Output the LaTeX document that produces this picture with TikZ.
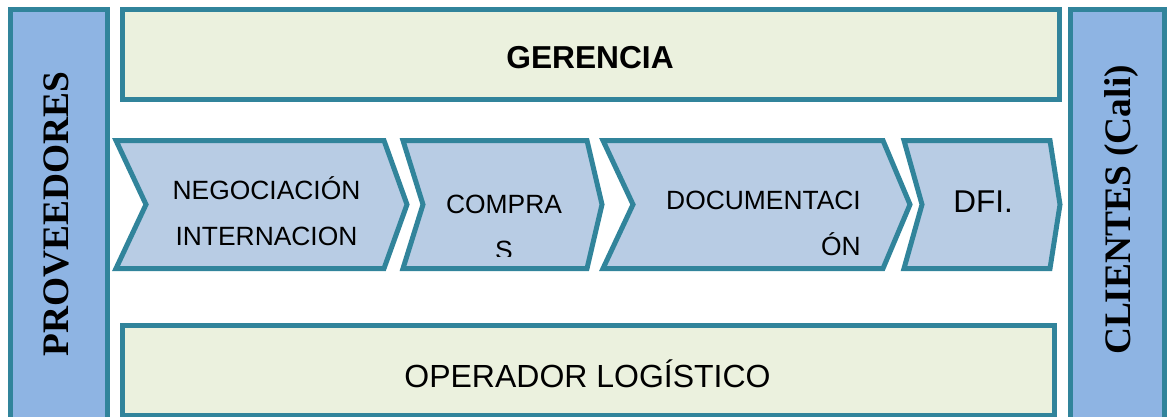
\documentclass[tikz,border=0pt]{standalone}
\usepackage{fontspec}
\setmainfont{Liberation Sans}
\newfontfamily\timesfont{Liberation Serif}
\usepackage{tikz}
\usetikzlibrary{positioning}
\definecolor{borde}{RGB}{49,132,155}
\definecolor{lateral}{RGB}{142,180,227}
\definecolor{proceso}{RGB}{184,204,228}
\definecolor{franja}{RGB}{235,241,222}
\tikzset{side/.style={draw=borde,fill=lateral,line width=5pt}}
\tikzset{band/.style={draw=borde,fill=franja,line width=5pt}}
\tikzset{paso/.style={draw=borde,fill=proceso,line width=5pt,line join=miter}}
\tikzset{rotulo/.style={inner sep=0pt,anchor=base}}
\tikzset{vertical/.style={rotulo,rotate=90,font=\timesfont\bfseries\fontsize{37.4}{40}\selectfont}}

\begin{document}
\begin{tikzpicture}[x=1pt,y=-1pt]
  \useasboundingbox (0,0) rectangle (1167,416);
  \clip (0,0) rectangle (1167,416);
  % columnas laterales
  \draw[side] (10.5,9.5) rectangle (107.5,420);
  \draw[side] (1070.5,9.5) rectangle (1164.5,420);
  % franjas
  \draw[band] (122.5,9.5) rectangle (1059.5,99.5);
  \draw[band] (122.5,325.5) rectangle (1054.5,415.5);
  % pasos del proceso
  \foreach \a/\b/\c/\d in {116/146/384/407, 403/423/587/602, 603/633/883/910, 904/922/1050/1060}
    \draw[paso] (\a,140.5) -- (\c,140.5) -- (\d,204.5) -- (\c,268.5)
      -- (\a,268.5) -- (\b,204.5) -- cycle;

  \node[vertical] (prov) at (68,214) {PROVEEDORES};
  \node[vertical] (cli) at (1130,210) {CLIENTES (Cali)};
  \node[rotulo,font=\bfseries\fontsize{31.7}{36}\selectfont] (ger) at (590,68) {GERENCIA};
  \node[rotulo,font=\fontsize{32}{36}\selectfont] (oper) at (587.5,387) {OPERADOR LOGÍSTICO};
  % la base del nodo es la de la ultima linea
  \node[rotulo,align=center,font=\fontsize{26.4}{46}\selectfont] (neg) at (266.5,245)
    {NEGOCIACIÓN\\INTERNACION};
  \begin{scope}
    \clip (400,130) rectangle (610,256);
    \node[rotulo,align=center,font=\fontsize{26.4}{46}\selectfont] (comp) at (504,259)
      {COMPRA\\S};
  \end{scope}
  \node[rotulo,anchor=base east,align=right,font=\fontsize{26.4}{46}\selectfont] (doc) at (861,255)
    {DOCUMENTACI\\ÓN};
  \node[rotulo,font=\fontsize{31.5}{36}\selectfont] (dfi) at (983,212) {DFI.};
\end{tikzpicture}
\end{document}
